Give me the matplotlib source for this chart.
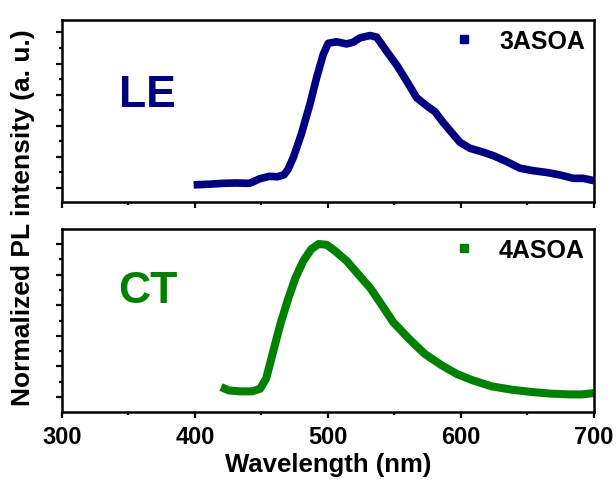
import matplotlib
matplotlib.use('Agg')
import matplotlib.pyplot as plt
from matplotlib.lines import Line2D
from matplotlib.ticker import MultipleLocator

# LE band, 3ASOA
wl_3asoa = [399, 410, 421, 431, 441, 449, 456, 462, 467, 470, 474, 480, 486.5,
            491.5, 496.5, 500.2, 506.5, 514, 519, 524, 531.6, 536.6, 544, 551.7,
            559, 566.7, 574, 580.5, 586.7, 591.7, 599.2, 606.8, 616.8, 624.3, 634.3,
            644.4, 654.4, 664.4, 674.4, 684.4, 692, 700]
pl_3asoa = [0.02, 0.024, 0.03, 0.032, 0.03, 0.06, 0.075, 0.072, 0.085, 0.12, 0.197,
            0.347, 0.54, 0.71, 0.86, 0.93, 0.94, 0.926, 0.937, 0.965, 0.98, 0.97,
            0.88, 0.79, 0.69, 0.58, 0.53, 0.49, 0.42, 0.37, 0.294, 0.255, 0.23,
            0.208, 0.17, 0.127, 0.111, 0.10, 0.084, 0.062, 0.062, 0.047]

# CT band, 4ASOA
wl_4asoa = [419.6, 425.5, 434, 443, 449, 453.5, 458, 464, 470, 475.6, 481.5, 487.5,
            493, 499, 505, 514, 523, 532, 540.6, 549, 561, 573, 585, 597, 608.5, 623,
            638, 653, 667.5, 682, 691, 700]
pl_4asoa = [0.065, 0.043, 0.037, 0.037, 0.054, 0.12, 0.27, 0.47, 0.64, 0.78, 0.89,
            0.967, 1.0, 0.995, 0.957, 0.89, 0.80, 0.71, 0.60, 0.49, 0.38, 0.28, 0.21,
            0.15, 0.11, 0.07, 0.048, 0.033, 0.022, 0.017, 0.017, 0.026]

navy = '#000080'
green = '#008000'

plt.rcParams['font.family'] = ['Liberation Sans', 'DejaVu Sans']
plt.rcParams['font.weight'] = 'bold'
plt.rcParams['axes.labelweight'] = 'bold'


def style(ax, ylim):
    ax.set_xlim(300, 700)
    ax.set_ylim(*ylim)
    ax.xaxis.set_major_locator(MultipleLocator(100))
    ax.xaxis.set_minor_locator(MultipleLocator(50))
    ax.yaxis.set_major_locator(MultipleLocator(0.2))
    ax.yaxis.set_minor_locator(MultipleLocator(0.1))
    ax.tick_params(which='both', direction='out', width=1.6, top=False, right=False)
    ax.tick_params(which='major', length=4.5, labelsize=17, pad=5)
    ax.tick_params(which='minor', length=2.5)
    ax.tick_params(axis='y', labelleft=False)
    for s in ax.spines.values():
        s.set_linewidth(1.8)


fig = plt.figure(figsize=(6.16, 4.89), dpi=100)
ax1 = fig.add_axes([0.1006, 0.5849, 0.8636, 0.3722])
ax2 = fig.add_axes([0.1006, 0.1554, 0.8636, 0.3742])

ax1.plot(wl_3asoa, pl_3asoa, color=navy, lw=5.5, solid_capstyle='butt',
         solid_joinstyle='round')
ax2.plot(wl_4asoa, pl_4asoa, color=green, lw=5.8, solid_capstyle='butt',
         solid_joinstyle='round')

style(ax1, (-0.09, 1.08))
style(ax2, (-0.098, 1.098))
ax1.tick_params(axis='x', labelbottom=False)

ax1.text(0.16, 0.529, 'LE', transform=ax1.transAxes, color=navy, fontsize=32,
         ha='center', va='baseline')
ax2.text(0.162, 0.601, 'CT', transform=ax2.transAxes, color=green, fontsize=32,
         ha='center', va='baseline')

for ax, c, name in [(ax1, navy, '3ASOA'), (ax2, green, '4ASOA')]:
    h = Line2D([], [], marker='s', color=c, linestyle='none', markersize=5.8)
    ax.legend([h], [name], loc='center right', bbox_to_anchor=(0.983, 0.885),
              frameon=False, fontsize=18, handlelength=0.6, handletextpad=1.1,
              borderpad=0, borderaxespad=0)

ax2.set_xlabel('Wavelength (nm)', fontsize=18.5, labelpad=3)
fig.text(23 / 616, (489 - 218) / 489, 'Normalized PL intensity (a. u.)',
         rotation=90, ha='center', va='center', fontsize=19)

fig.savefig('out.png', dpi=100)
